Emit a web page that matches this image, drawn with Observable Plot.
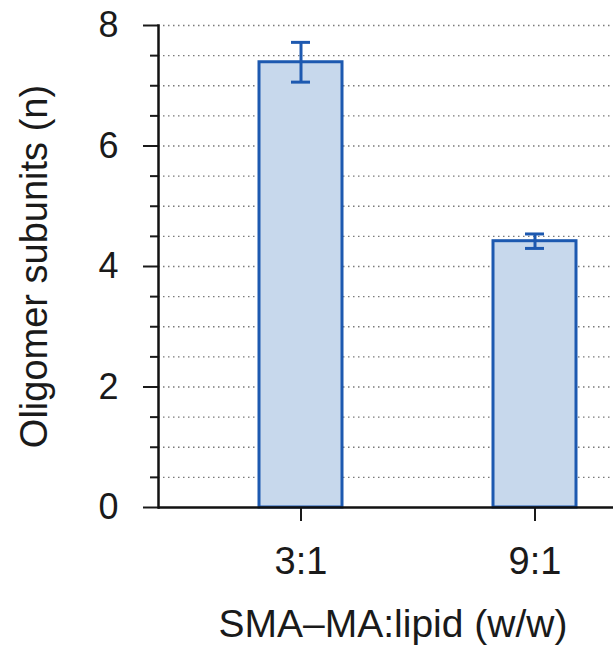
<!DOCTYPE html>
<html>
<head>
<meta charset="utf-8">
<script src="https://cdn.jsdelivr.net/npm/d3@7"></script>
<script src="https://cdn.jsdelivr.net/npm/@observablehq/plot@0.6"></script>
<style>
  html, body { margin: 0; padding: 0; background: #ffffff; overflow: hidden; }
</style>
</head>
<body>
<div id="chart"></div>
<script>
// ---- data ----
const categories = ["3:1", "9:1"];
const means = [7.39, 4.42];
const errors = [0.33, 0.12];
const yMajorTicks = [0, 2, 4, 6, 8];
const yMajorLabels = ["0", "2", "4", "6", "8"];
const yMinorTicks = [0.5, 1, 1.5, 2.5, 3, 3.5, 4.5, 5, 5.5, 6.5, 7, 7.5];
const gridValues = [0.5, 1, 1.5, 2, 2.5, 3, 3.5, 4, 4.5, 5, 5.5, 6, 6.5, 7, 7.5, 8];
const xTitle = "SMA\u2013MA:lipid (w/w)";
const yTitle = "Oligomer subunits (n)";

const rows = categories.map((c, i) => ({
  cat: c, mean: means[i], lo: means[i] - errors[i], hi: means[i] + errors[i]
}));

const blue = "#1d59b0";
const font = "Liberation Sans, Arial, Helvetica, sans-serif";

const chart = Plot.plot({
  width: 613,
  height: 653,
  marginLeft: 158,
  marginRight: 0,
  marginTop: 25,
  marginBottom: 146,
  style: { fontFamily: font, fontSize: "36px", color: "#1a1a1a", background: "#ffffff" },
  x: { domain: categories, paddingInner: 0.647, paddingOuter: 0.2936, align: 0.732 },
  y: { domain: [0, 8] },
  marks: [
    Plot.ruleY(gridValues, { stroke: "#7a7a7a", strokeDasharray: "1.5,3.5", strokeWidth: 1.4 }),
    Plot.barY(rows, { x: "cat", y: "mean", fill: "#c7d8ec", stroke: blue, strokeWidth: 3 }),
    Plot.ruleX(rows, { x: "cat", y1: "lo", y2: "hi", stroke: blue, strokeWidth: 3 }),
    Plot.tickY(rows, { x: "cat", y: "hi", stroke: blue, strokeWidth: 3, inset: 32 }),
    Plot.tickY(rows, { x: "cat", y: "lo", stroke: blue, strokeWidth: 3, inset: 32 }),
    Plot.axisY({ ticks: yMajorTicks, tickFormat: (d, i) => yMajorLabels[i], tickSize: 15, tickPadding: 25, strokeWidth: 2, label: null, fill: "#1a1a1a", fontSize: 36 }),
    Plot.axisY({ ticks: yMinorTicks, tickSize: 8, text: null, label: null, strokeWidth: 2 }),
    Plot.axisX({ tickSize: 14, tickPadding: 26, strokeWidth: 2, label: null, fill: "#1a1a1a", fontSize: 38 }),
    Plot.frame({ anchor: "left", stroke: "#111", strokeWidth: 2.5 }),
    Plot.ruleY([0], { stroke: "#111", strokeWidth: 2.5 }),
    Plot.text([yTitle], { text: d => d, frameAnchor: "left", textAnchor: "middle", rotate: -90, dx: -124, fontSize: 38, fill: "#1a1a1a" }),
    Plot.text([xTitle], { text: d => d, frameAnchor: "bottom", textAnchor: "middle", dx: 7, dy: 129, fontSize: 39, fill: "#1a1a1a" })
  ]
});

document.getElementById("chart").appendChild(chart);
</script>
</body>
</html>
